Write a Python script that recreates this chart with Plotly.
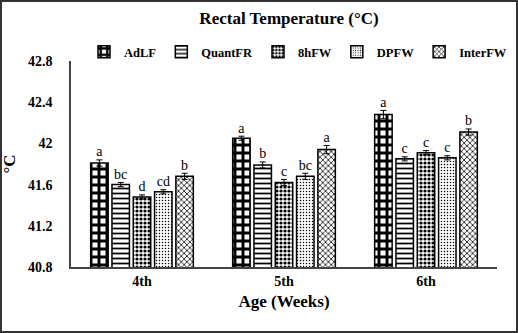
import plotly.graph_objects as go

ages = ["4th", "5th", "6th"]
series = ["AdLF", "QuantFR", "8hFW", "DPFW", "InterFW"]
values = {
    "AdLF":    [41.81, 42.05, 42.28],
    "QuantFR": [41.60, 41.79, 41.85],
    "8hFW":    [41.48, 41.62, 41.91],
    "DPFW":    [41.53, 41.68, 41.86],
    "InterFW": [41.68, 41.94, 42.11],
}
errors = {
    "AdLF":    [0.03, 0.02, 0.04],
    "QuantFR": [0.02, 0.03, 0.02],
    "8hFW":    [0.02, 0.03, 0.02],
    "DPFW":    [0.02, 0.03, 0.02],
    "InterFW": [0.03, 0.04, 0.03],
}
letters = {
    "AdLF":    ["a", "a", "a"],
    "QuantFR": ["bc", "b", "c"],
    "8hFW":    ["d", "c", "c"],
    "DPFW":    ["cd", "bc", "c"],
    "InterFW": ["b", "a", "b"],
}
patterns = {
    "AdLF":    dict(shape="+", size=8, solidity=0.6),
    "QuantFR": dict(shape="-", size=5, solidity=0.35),
    "8hFW":    dict(shape=".", size=4, solidity=0.5),
    "DPFW":    dict(shape=".", size=3, solidity=0.2),
    "InterFW": dict(shape="x", size=4, solidity=0.35),
}

font = "Liberation Serif"
fig = go.Figure()
for s in series:
    p = patterns[s]
    fig.add_trace(go.Bar(
        name=f"<b>{s}</b>", x=ages, y=values[s], offsetgroup=s,
        marker=dict(color="white",
                    line=dict(color="black", width=1.5),
                    pattern=dict(shape=p["shape"], size=p["size"], solidity=p["solidity"],
                                 fgcolor="black", bgcolor="white", fillmode="replace")),
        error_y=dict(type="data", array=errors[s], visible=True, color="black",
                     thickness=1, width=3),
    ))
for s in series:
    fig.add_trace(go.Scatter(
        x=ages, y=[v + e for v, e in zip(values[s], errors[s])], offsetgroup=s,
        mode="text", text=letters[s], textposition="top center",
        textfont=dict(family=font, size=14, color="black"),
        showlegend=False, hoverinfo="skip",
    ))

W, H = 518, 333
l, r, t, b = 71, 21, 61, 66
pw, ph = W - l - r, H - t - b
fig.add_shape(type="rect", xref="paper", yref="paper",
              x0=(1 - l) / pw, x1=(W - l - 1) / pw,
              y0=-(b - 1) / ph, y1=(ph + t - 1) / ph,
              line=dict(color="#333333", width=2), layer="above")

fig.update_layout(
    width=W, height=H,
    margin=dict(l=l, r=r, t=t, b=b, autoexpand=False),
    paper_bgcolor="white", plot_bgcolor="white",
    barmode="group", scattermode="group",
    bargap=0.25, bargroupgap=0.18,
    font=dict(family=font, color="black"),
    title=dict(text="<b>Rectal Temperature (°C)</b>", x=(289 - l) / pw, xref="paper", xanchor="center",
               y=1 - 18 / H, yanchor="middle", font=dict(size=17, family=font)),
    legend=dict(orientation="h", xref="container", yref="container",
                x=84 / W, xanchor="left", y=1 - 52 / H, yanchor="middle",
                font=dict(size=12.5, family=font), itemwidth=30, traceorder="normal",
                bgcolor="rgba(0,0,0,0)"),
    showlegend=True,
)
fig.update_xaxes(showline=True, linecolor="#444444", linewidth=1.5, ticks="",
                 tickfont=dict(size=14, family=font), tickprefix="<b>", ticksuffix="</b>",
                 title=dict(text="<b>Age (Weeks)</b>", font=dict(size=17, family=font), standoff=8))
fig.update_yaxes(range=[40.8, 42.8], tickvals=[40.8, 41.2, 41.6, 42.0, 42.4, 42.8],
                 ticktext=["<b>40.8</b>", "<b>41.2</b>", "<b>41.6</b>", "<b>42</b>", "<b>42.4</b>", "<b>42.8</b>"],
                 showline=True, linecolor="#444444", linewidth=1.5, ticks="", showgrid=False,
                 zeroline=False, tickfont=dict(size=14, family=font), ticklabelstandoff=14,
                 title=dict(text="<b>°C</b>", font=dict(size=17, family=font), standoff=12))

fig.write_html("out.html")
